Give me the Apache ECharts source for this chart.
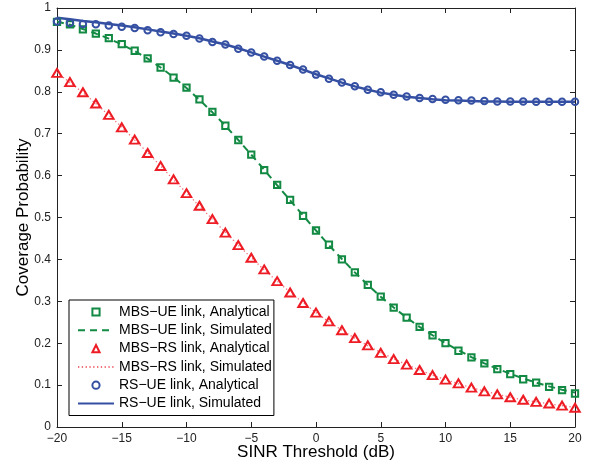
<!DOCTYPE html>
<html>
<head>
<meta charset="utf-8">
<script src="https://cdn.jsdelivr.net/npm/echarts@6/dist/echarts.min.js"></script>
<style>
html,body{margin:0;padding:0;background:#fff;}
#chart{width:591px;height:464px;}
</style>
</head>
<body>
<div id="chart"></div>
<script>
var sinrDb = [-20,-19,-18,-17,-16,-15,-14,-13,-12,-11,-10,-9,-8,-7,-6,-5,-4,-3,-2,-1,0,1,2,3,4,5,6,7,8,9,10,11,12,13,14,15,16,17,18,19,20];

var mbsUeAnalytical = [0.967,0.961,0.949,0.939,0.928,0.914,0.898,0.880,0.858,0.834,0.810,0.782,0.752,0.719,0.685,0.650,0.613,0.578,0.542,0.504,0.469,0.435,0.400,0.369,0.339,0.311,0.285,0.261,0.239,0.219,0.200,0.182,0.166,0.152,0.138,0.126,0.114,0.106,0.096,0.088,0.080];
var mbsUeSimulated  = [0.968,0.960,0.950,0.939,0.927,0.913,0.897,0.879,0.858,0.835,0.809,0.781,0.751,0.719,0.685,0.650,0.614,0.577,0.541,0.505,0.469,0.434,0.401,0.369,0.339,0.311,0.285,0.261,0.239,0.219,0.200,0.183,0.167,0.152,0.139,0.127,0.116,0.106,0.097,0.089,0.082];

var mbsRsAnalytical = [0.845,0.823,0.799,0.772,0.745,0.715,0.686,0.654,0.623,0.591,0.558,0.528,0.496,0.464,0.434,0.404,0.376,0.348,0.321,0.296,0.273,0.252,0.231,0.212,0.195,0.177,0.162,0.149,0.136,0.124,0.113,0.104,0.094,0.085,0.078,0.071,0.065,0.060,0.056,0.051,0.046];
var mbsRsSimulated  = [0.846,0.822,0.798,0.772,0.744,0.716,0.685,0.655,0.623,0.590,0.559,0.527,0.496,0.465,0.434,0.404,0.375,0.348,0.322,0.297,0.273,0.251,0.231,0.212,0.194,0.178,0.163,0.149,0.136,0.124,0.113,0.103,0.094,0.086,0.078,0.071,0.065,0.060,0.055,0.051,0.047];

var rsUeAnalytical = [0.968,0.964,0.962,0.961,0.958,0.955,0.952,0.947,0.942,0.938,0.934,0.927,0.919,0.913,0.903,0.894,0.884,0.874,0.864,0.853,0.841,0.831,0.822,0.813,0.805,0.799,0.793,0.789,0.785,0.783,0.781,0.780,0.779,0.778,0.777,0.777,0.777,0.776,0.776,0.776,0.776];
var rsUeSimulated  = [0.977,0.973,0.969,0.966,0.962,0.958,0.954,0.949,0.944,0.939,0.934,0.928,0.920,0.913,0.904,0.894,0.884,0.874,0.864,0.853,0.842,0.832,0.822,0.813,0.805,0.798,0.793,0.788,0.785,0.782,0.780,0.779,0.778,0.777,0.777,0.776,0.776,0.776,0.776,0.776,0.776];

var seriesNames = [
  'MBS\u2212UE link, Analytical',
  'MBS\u2212UE link, Simulated',
  'MBS\u2212RS link, Analytical',
  'MBS\u2212RS link, Simulated',
  'RS\u2212UE link, Analytical',
  'RS\u2212UE link, Simulated'
];
var xAxisName = 'SINR Threshold (dB)';
var yAxisName = 'Coverage Probability';

function pairs(ys){ return sinrDb.map(function(x,i){ return [x, ys[i]]; }); }

var GREEN = '#138a43', RED = '#ee1c25', BLUE = '#3550a3';
var FONT = 'Liberation Sans, Arial, Helvetica, sans-serif';

function analytical(name, ys, color, symbol, size){
  return {
    name: name, type: 'line', data: pairs(ys), color: color,
    symbol: symbol, symbolSize: size, showSymbol: true,
    lineStyle: {width: 0, opacity: 0},
    itemStyle: {color: 'rgba(255,255,255,0)', borderColor: color, borderWidth: 2},
    z: 3, silent: true
  };
}
function simulated(name, ys, color, lineStyle){
  return {
    name: name, type: 'line', data: pairs(ys), color: color,
    symbol: 'none', lineStyle: lineStyle, z: 2, silent: true
  };
}

var chart = echarts.init(document.getElementById('chart'), null, {renderer: 'canvas'});
chart.setOption({
  animation: false,
  backgroundColor: '#fff',
  grid: {left: 57, right: 16, top: 8, bottom: 37, containLabel: false, outerBoundsMode: 'none'},
  legend: {
    orient: 'vertical', left: 69, top: 300,
    backgroundColor: '#fff', borderColor: '#000', borderWidth: 1,
    padding: [4, 2, 4, 8], itemGap: 2.3, itemWidth: 36, itemHeight: 9,
    textStyle: {fontFamily: FONT, fontSize: 14, color: '#000', lineHeight: 16},
    data: [
      {name: seriesNames[0]},
      {name: seriesNames[1], itemStyle: {opacity: 0}},
      {name: seriesNames[2]},
      {name: seriesNames[3], itemStyle: {opacity: 0}},
      {name: seriesNames[4]},
      {name: seriesNames[5], itemStyle: {opacity: 0}}
    ],
    selectedMode: false
  },
  xAxis: [{
    type: 'value', min: -20, max: 20, interval: 5, position: 'bottom',
    name: xAxisName, nameLocation: 'middle', nameGap: 17, nameMoveOverlap: false,
    nameTextStyle: {fontFamily: FONT, fontSize: 17, color: '#000'},
    axisLine: {show: true, onZero: false, lineStyle: {color: '#222', width: 1}},
    axisTick: {show: true, inside: true, length: 5, lineStyle: {color: '#222'}},
    axisLabel: {fontFamily: FONT, fontSize: 12, color: '#222', margin: 6,
      formatter: function(v){ return String(v).replace('-', '\u2212'); }},
    splitLine: {show: false}
  }, {
    type: 'value', min: -20, max: 20, interval: 5, position: 'top',
    axisLine: {show: true, onZero: false, lineStyle: {color: '#222', width: 1}},
    axisTick: {show: true, inside: true, length: 5, lineStyle: {color: '#222'}},
    axisLabel: {show: false}, splitLine: {show: false}
  }],
  yAxis: [{
    type: 'value', min: 0, max: 1, interval: 0.1, position: 'left',
    name: yAxisName, nameLocation: 'middle', nameGap: 25, nameMoveOverlap: false,
    nameTextStyle: {fontFamily: FONT, fontSize: 17, color: '#000'},
    axisLine: {show: true, onZero: false, lineStyle: {color: '#222', width: 1}},
    axisTick: {show: true, inside: true, length: 5, lineStyle: {color: '#222'}},
    axisLabel: {fontFamily: FONT, fontSize: 12, color: '#222', margin: 6},
    splitLine: {show: false}
  }, {
    type: 'value', min: 0, max: 1, interval: 0.1, position: 'right',
    axisLine: {show: true, onZero: false, lineStyle: {color: '#222', width: 1}},
    axisTick: {show: true, inside: true, length: 5, lineStyle: {color: '#222'}},
    axisLabel: {show: false}, splitLine: {show: false}
  }],
  series: [
    analytical(seriesNames[0], mbsUeAnalytical, GREEN, 'rect', 6.3),
    simulated(seriesNames[1], mbsUeSimulated, GREEN, {color: GREEN, width: 2, type: [7, 5]}),
    analytical(seriesNames[2], mbsRsAnalytical, RED, 'triangle', [9.5, 8]),
    simulated(seriesNames[3], mbsRsSimulated, RED, {color: '#f0707a', width: 1.3, type: [1.3, 2.5]}),
    analytical(seriesNames[4], rsUeAnalytical, BLUE, 'circle', 6.5),
    simulated(seriesNames[5], rsUeSimulated, BLUE, {color: BLUE, width: 2.5, type: 'solid'})
  ]
});
</script>
</body>
</html>
